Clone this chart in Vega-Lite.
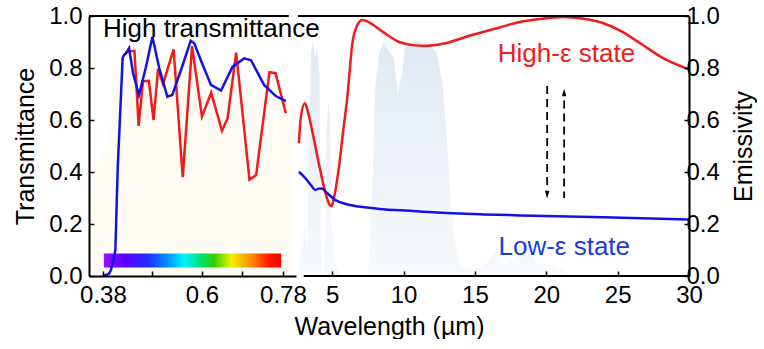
{
  "$schema": "https://vega.github.io/schema/vega-lite/v6.json",
  "background": "white",
  "padding": {"left": 13, "top": 4, "right": 0, "bottom": 0},
  "config": {
    "font": "Liberation Sans",
    "view": {"stroke": null},
    "axis": {
      "labelFont": "Liberation Sans",
      "titleFont": "Liberation Sans",
      "labelFontSize": 24,
      "titleFontSize": 25,
      "titleFontWeight": "normal",
      "labelColor": "#000",
      "titleColor": "#000",
      "grid": false
    }
  },
  "datasets": {
    "solar": [
      {"x": 0.35, "y": 0.28}, {"x": 0.355, "y": 0.4}, {"x": 0.36, "y": 0.33}, {"x": 0.365, "y": 0.45},
      {"x": 0.37, "y": 0.42}, {"x": 0.375, "y": 0.5}, {"x": 0.38, "y": 0.45}, {"x": 0.39, "y": 0.55},
      {"x": 0.395, "y": 0.52}, {"x": 0.40, "y": 0.68}, {"x": 0.41, "y": 0.75}, {"x": 0.42, "y": 0.78},
      {"x": 0.43, "y": 0.74}, {"x": 0.44, "y": 0.84}, {"x": 0.45, "y": 0.88}, {"x": 0.46, "y": 0.87},
      {"x": 0.47, "y": 0.88}, {"x": 0.48, "y": 0.9}, {"x": 0.49, "y": 0.86}, {"x": 0.50, "y": 0.87},
      {"x": 0.52, "y": 0.84}, {"x": 0.54, "y": 0.85}, {"x": 0.56, "y": 0.83}, {"x": 0.58, "y": 0.83},
      {"x": 0.60, "y": 0.82}, {"x": 0.62, "y": 0.81}, {"x": 0.64, "y": 0.79}, {"x": 0.66, "y": 0.78},
      {"x": 0.68, "y": 0.75}, {"x": 0.687, "y": 0.62}, {"x": 0.695, "y": 0.74}, {"x": 0.71, "y": 0.73},
      {"x": 0.72, "y": 0.68}, {"x": 0.73, "y": 0.71}, {"x": 0.75, "y": 0.7}, {"x": 0.76, "y": 0.68},
      {"x": 0.762, "y": 0.35}, {"x": 0.766, "y": 0.66}, {"x": 0.78, "y": 0.66}, {"x": 0.80, "y": 0.64}
    ],
    "rainbow": [{"x": 0.382, "x2": 0.776, "y": 0.033, "y2": 0.087}],
    "leftTop": [{"x": 0.349, "x2": 0.793, "y": 1}],
    "leftRed": [
      {"x": 0.428, "y": 0.85}, {"x": 0.433, "y": 0.862}, {"x": 0.45, "y": 0.866}, {"x": 0.4594, "y": 0.577},
      {"x": 0.469, "y": 0.749}, {"x": 0.482, "y": 0.751}, {"x": 0.4925, "y": 0.6}, {"x": 0.5025, "y": 0.797},
      {"x": 0.5135, "y": 0.738}, {"x": 0.537, "y": 0.872}, {"x": 0.5573, "y": 0.38}, {"x": 0.578, "y": 0.884},
      {"x": 0.6, "y": 0.613}, {"x": 0.6205, "y": 0.705}, {"x": 0.6445, "y": 0.558}, {"x": 0.657, "y": 0.607},
      {"x": 0.676, "y": 0.859}, {"x": 0.7057, "y": 0.37}, {"x": 0.7204, "y": 0.388}, {"x": 0.75, "y": 0.784},
      {"x": 0.7635, "y": 0.78}, {"x": 0.7865, "y": 0.626}
    ],
    "leftBlue": [
      {"x": 0.38, "y": 0.0}, {"x": 0.393, "y": 0.008}, {"x": 0.3978, "y": 0.023}, {"x": 0.4031, "y": 0.06},
      {"x": 0.4076, "y": 0.1}, {"x": 0.4127, "y": 0.41}, {"x": 0.4238, "y": 0.84}, {"x": 0.4275, "y": 0.852},
      {"x": 0.432, "y": 0.858}, {"x": 0.438, "y": 0.876}, {"x": 0.447, "y": 0.78}, {"x": 0.46, "y": 0.696},
      {"x": 0.475, "y": 0.8}, {"x": 0.49, "y": 0.92}, {"x": 0.505, "y": 0.8}, {"x": 0.523, "y": 0.69},
      {"x": 0.534, "y": 0.696}, {"x": 0.555, "y": 0.8}, {"x": 0.575, "y": 0.905}, {"x": 0.583, "y": 0.895},
      {"x": 0.5975, "y": 0.83}, {"x": 0.62, "y": 0.735}, {"x": 0.6425, "y": 0.713}, {"x": 0.668, "y": 0.805},
      {"x": 0.694, "y": 0.837}, {"x": 0.709, "y": 0.83}, {"x": 0.738, "y": 0.735}, {"x": 0.764, "y": 0.692},
      {"x": 0.7865, "y": 0.673}
    ],
    "atm": [
      {"x": 2.65, "y": 0.04}, {"x": 2.9, "y": 0.12}, {"x": 3.1, "y": 0.2}, {"x": 3.25, "y": 0.08},
      {"x": 3.4, "y": 0.55}, {"x": 3.5, "y": 0.86}, {"x": 3.65, "y": 0.9}, {"x": 3.8, "y": 0.84},
      {"x": 3.95, "y": 0.88}, {"x": 4.1, "y": 0.78}, {"x": 4.2, "y": 0.25}, {"x": 4.3, "y": 0.0},
      {"x": 4.5, "y": 0.05}, {"x": 4.6, "y": 0.55}, {"x": 4.72, "y": 0.68}, {"x": 4.85, "y": 0.6},
      {"x": 4.95, "y": 0.2}, {"x": 5.2, "y": 0.05}, {"x": 5.6, "y": 0.0}, {"x": 7.5, "y": 0.0},
      {"x": 7.8, "y": 0.3}, {"x": 8.0, "y": 0.72}, {"x": 8.3, "y": 0.86}, {"x": 8.6, "y": 0.9},
      {"x": 8.9, "y": 0.87}, {"x": 9.3, "y": 0.84}, {"x": 9.6, "y": 0.7}, {"x": 9.9, "y": 0.78},
      {"x": 10.1, "y": 0.89}, {"x": 10.6, "y": 0.9}, {"x": 11.2, "y": 0.9}, {"x": 11.8, "y": 0.89},
      {"x": 12.3, "y": 0.86}, {"x": 12.7, "y": 0.75}, {"x": 13.0, "y": 0.55}, {"x": 13.3, "y": 0.3},
      {"x": 13.6, "y": 0.12}, {"x": 14.0, "y": 0.04}, {"x": 15.0, "y": 0.02}, {"x": 16.0, "y": 0.06},
      {"x": 16.5, "y": 0.11}, {"x": 17.0, "y": 0.04}, {"x": 18.0, "y": 0.07}, {"x": 18.6, "y": 0.14},
      {"x": 19.2, "y": 0.05}, {"x": 20.5, "y": 0.04}, {"x": 22.0, "y": 0.0}, {"x": 30.0, "y": 0.0}
    ],
    "rightTop": [{"x": 2.6, "x2": 30, "y": 1}],
    "rightBottom": [{"x": 3.0, "x2": 30, "y": 0}],
    "rightRed": [
      {"x": 2.66, "y": 0.51}, {"x": 2.8, "y": 0.61}, {"x": 3.08, "y": 0.664}, {"x": 3.3, "y": 0.63},
      {"x": 3.59, "y": 0.56}, {"x": 4.06, "y": 0.433}, {"x": 4.53, "y": 0.318}, {"x": 4.8, "y": 0.275},
      {"x": 4.95, "y": 0.269}, {"x": 5.12, "y": 0.3}, {"x": 5.47, "y": 0.42}, {"x": 5.75, "y": 0.55},
      {"x": 6.06, "y": 0.69}, {"x": 6.41, "y": 0.895}, {"x": 6.76, "y": 0.965}, {"x": 7.11, "y": 0.985},
      {"x": 7.7, "y": 0.972}, {"x": 8.52, "y": 0.94}, {"x": 9.69, "y": 0.9}, {"x": 10.63, "y": 0.888},
      {"x": 11.5, "y": 0.885}, {"x": 12.74, "y": 0.893}, {"x": 14.5, "y": 0.922}, {"x": 16.73, "y": 0.956},
      {"x": 18.14, "y": 0.977}, {"x": 19.5, "y": 0.988}, {"x": 21.18, "y": 0.996}, {"x": 22.5, "y": 0.99},
      {"x": 24.0, "y": 0.972}, {"x": 25.3, "y": 0.94}, {"x": 26.58, "y": 0.895}, {"x": 28.22, "y": 0.837},
      {"x": 29.98, "y": 0.795}
    ],
    "rightBlue": [
      {"x": 2.66, "y": 0.401}, {"x": 3.12, "y": 0.376}, {"x": 3.5, "y": 0.35}, {"x": 3.82, "y": 0.331},
      {"x": 4.05, "y": 0.336}, {"x": 4.25, "y": 0.337}, {"x": 4.65, "y": 0.318}, {"x": 5.23, "y": 0.292},
      {"x": 5.94, "y": 0.277}, {"x": 6.88, "y": 0.267}, {"x": 8.29, "y": 0.258}, {"x": 10.63, "y": 0.25},
      {"x": 12.04, "y": 0.245}, {"x": 15.56, "y": 0.237}, {"x": 19.07, "y": 0.232}, {"x": 24.0, "y": 0.226},
      {"x": 29.98, "y": 0.217}
    ],
    "arrowShafts": [{"x": 20.06, "y": 0.731, "y2": 0.35}, {"x": 21.25, "y": 0.675, "y2": 0.3}],
    "arrowDown": [{"x": 20.06, "y": 0.313}],
    "arrowUp": [{"x": 21.25, "y": 0.706}],
    "highText": [{"x": 0.38, "y": 0.919, "label": "High transmittance"}],
    "highEps": [{"x": 16.6, "y": 0.823, "label": "High-ε state"}],
    "lowEps": [{"x": 16.65, "y": 0.081, "label": "Low-ε state"}]
  },
  "bounds": "flush",
  "spacing": 2,
  "hconcat": [
    {
      "width": 207,
      "height": 260,
      "layer": [
        {
          "data": {"name": "solar"},
          "mark": {"type": "area", "color": "#fdf8e4", "opacity": 0.45},
          "encoding": {
            "x": {
              "field": "x", "type": "quantitative",
              "scale": {"domain": [0.349, 0.809], "nice": false, "zero": false},
              "axis": {
                "orient": "bottom", "title": null, "zindex": 1,
                "domain": true, "domainColor": "#000", "domainWidth": 2,
                "ticks": true, "tickColor": "#000", "tickWidth": 1.5, "tickSize": -5,
                "values": [0.38, 0.49, 0.6, 0.69, 0.78],
                "labelExpr": "indexof([0.38, 0.6, 0.78], datum.value) >= 0 ? format(datum.value, '~g') : ''",
                "labelPadding": 12, "labelFlush": false
              }
            },
            "y": {
              "field": "y", "type": "quantitative",
              "scale": {"domain": [0, 1], "nice": false},
              "axis": {
                "orient": "left", "title": "Transmittance", "zindex": 1,
                "domain": true, "domainColor": "#000", "domainWidth": 2,
                "ticks": true, "tickColor": "#000", "tickWidth": 1.5, "tickSize": -5,
                "values": [0, 0.1, 0.2, 0.3, 0.4, 0.5, 0.6, 0.7, 0.8, 0.9, 1.0],
                "labelExpr": "round(datum.value * 10) % 2 == 0 ? format(datum.value, '.1f') : ''",
                "labelPadding": 12, "titlePadding": 10
              }
            }
          }
        },
        {
          "data": {"name": "rainbow"},
          "mark": {
            "type": "rect",
            "fill": {
              "gradient": "linear", "x1": 0, "y1": 0, "x2": 1, "y2": 0,
              "stops": [
                {"offset": 0, "color": "#9a10ff"},
                {"offset": 0.12, "color": "#5a00ff"},
                {"offset": 0.25, "color": "#2030ff"},
                {"offset": 0.36, "color": "#0090ff"},
                {"offset": 0.45, "color": "#00f5ff"},
                {"offset": 0.55, "color": "#00e070"},
                {"offset": 0.62, "color": "#30d000"},
                {"offset": 0.72, "color": "#f0f000"},
                {"offset": 0.84, "color": "#ff8000"},
                {"offset": 0.93, "color": "#ff1800"},
                {"offset": 1, "color": "#ff0000"}
              ]
            }
          },
          "encoding": {
            "x": {"field": "x", "type": "quantitative"},
            "x2": {"field": "x2"},
            "y": {"field": "y", "type": "quantitative"},
            "y2": {"field": "y2"}
          }
        },
        {
          "data": {"name": "leftRed"},
          "mark": {"type": "line", "color": "#f21a1a", "strokeWidth": 2.5},
          "encoding": {"x": {"field": "x", "type": "quantitative"}, "y": {"field": "y", "type": "quantitative"}}
        },
        {
          "data": {"name": "leftBlue"},
          "mark": {"type": "line", "color": "#1212e6", "strokeWidth": 2.5},
          "encoding": {"x": {"field": "x", "type": "quantitative"}, "y": {"field": "y", "type": "quantitative"}}
        },
        {
          "data": {"name": "leftTop"},
          "mark": {"type": "rule", "color": "#000", "strokeWidth": 2},
          "encoding": {
            "x": {"field": "x", "type": "quantitative"},
            "x2": {"field": "x2"},
            "y": {"field": "y", "type": "quantitative"}
          }
        },
        {
          "data": {"name": "highText"},
          "mark": {"type": "text", "align": "left", "baseline": "alphabetic", "fontSize": 26, "color": "#000"},
          "encoding": {
            "x": {"field": "x", "type": "quantitative"},
            "y": {"field": "y", "type": "quantitative"},
            "text": {"field": "label"}
          }
        }
      ]
    },
    {
      "width": 391,
      "height": 260,
      "layer": [
        {
          "data": {"name": "atm"},
          "mark": {
            "type": "area",
            "opacity": 0.75,
            "fill": {
              "gradient": "linear", "x1": 0, "y1": 0, "x2": 0, "y2": 1,
              "stops": [{"offset": 0, "color": "#d6e2ee"}, {"offset": 1, "color": "#f5f8fb"}]
            }
          },
          "encoding": {
            "x": {
              "field": "x", "type": "quantitative",
              "scale": {"domain": [2.6, 30], "nice": false, "zero": false},
              "axis": {
                "orient": "bottom", "title": "Wavelength (µm)", "titleX": 91, "zindex": 1,
                "domain": false,
                "ticks": true, "tickColor": "#000", "tickWidth": 1.5, "tickSize": -5,
                "values": [5, 7.5, 10, 12.5, 15, 17.5, 20, 22.5, 25, 27.5, 30],
                "labelExpr": "datum.value % 5 == 0 ? format(datum.value, 'd') : ''",
                "labelPadding": 12, "labelFlush": false, "titlePadding": 7
              }
            },
            "y": {
              "field": "y", "type": "quantitative",
              "scale": {"domain": [0, 1], "nice": false},
              "axis": {
                "orient": "right", "title": "Emissivity", "titleAngle": 270, "titleBaseline": "top", "zindex": 1,
                "domain": true, "domainColor": "#000", "domainWidth": 2,
                "ticks": true, "tickColor": "#000", "tickWidth": 1.5, "tickSize": -5,
                "values": [0, 0.1, 0.2, 0.3, 0.4, 0.5, 0.6, 0.7, 0.8, 0.9, 1.0],
                "labelExpr": "round(datum.value * 10) % 2 == 0 ? format(datum.value, '.1f') : ''",
                "labelPadding": 2, "titlePadding": 12
              }
            }
          }
        },
        {
          "data": {"name": "rightRed"},
          "mark": {"type": "line", "color": "#f21a1a", "strokeWidth": 2.5, "interpolate": "monotone"},
          "encoding": {"x": {"field": "x", "type": "quantitative"}, "y": {"field": "y", "type": "quantitative"}}
        },
        {
          "data": {"name": "rightBlue"},
          "mark": {"type": "line", "color": "#1212e6", "strokeWidth": 2.5, "interpolate": "monotone"},
          "encoding": {"x": {"field": "x", "type": "quantitative"}, "y": {"field": "y", "type": "quantitative"}}
        },
        {
          "data": {"name": "rightTop"},
          "mark": {"type": "rule", "color": "#000", "strokeWidth": 2},
          "encoding": {
            "x": {"field": "x", "type": "quantitative"},
            "x2": {"field": "x2"},
            "y": {"field": "y", "type": "quantitative"}
          }
        },
        {
          "data": {"name": "rightBottom"},
          "mark": {"type": "rule", "color": "#000", "strokeWidth": 2},
          "encoding": {
            "x": {"field": "x", "type": "quantitative"},
            "x2": {"field": "x2"},
            "y": {"field": "y", "type": "quantitative"}
          }
        },
        {
          "data": {"name": "arrowShafts"},
          "mark": {"type": "rule", "color": "#000", "strokeWidth": 1.8, "strokeDash": [8, 5]},
          "encoding": {
            "x": {"field": "x", "type": "quantitative"},
            "y": {"field": "y", "type": "quantitative"},
            "y2": {"field": "y2"}
          }
        },
        {
          "data": {"name": "arrowDown"},
          "mark": {"type": "point", "filled": true, "color": "#000", "opacity": 1, "size": 160, "shape": "M -0.35 -0.6 L 0.35 -0.6 L 0 0.6 Z"},
          "encoding": {"x": {"field": "x", "type": "quantitative"}, "y": {"field": "y", "type": "quantitative"}}
        },
        {
          "data": {"name": "arrowUp"},
          "mark": {"type": "point", "filled": true, "color": "#000", "opacity": 1, "size": 160, "shape": "M -0.35 0.6 L 0.35 0.6 L 0 -0.6 Z"},
          "encoding": {"x": {"field": "x", "type": "quantitative"}, "y": {"field": "y", "type": "quantitative"}}
        },
        {
          "data": {"name": "highEps"},
          "mark": {"type": "text", "align": "left", "baseline": "alphabetic", "fontSize": 26, "color": "#f21a1a"},
          "encoding": {
            "x": {"field": "x", "type": "quantitative"},
            "y": {"field": "y", "type": "quantitative"},
            "text": {"field": "label"}
          }
        },
        {
          "data": {"name": "lowEps"},
          "mark": {"type": "text", "align": "left", "baseline": "alphabetic", "fontSize": 26, "color": "#1a3ddc"},
          "encoding": {
            "x": {"field": "x", "type": "quantitative"},
            "y": {"field": "y", "type": "quantitative"},
            "text": {"field": "label"}
          }
        }
      ]
    }
  ]
}
